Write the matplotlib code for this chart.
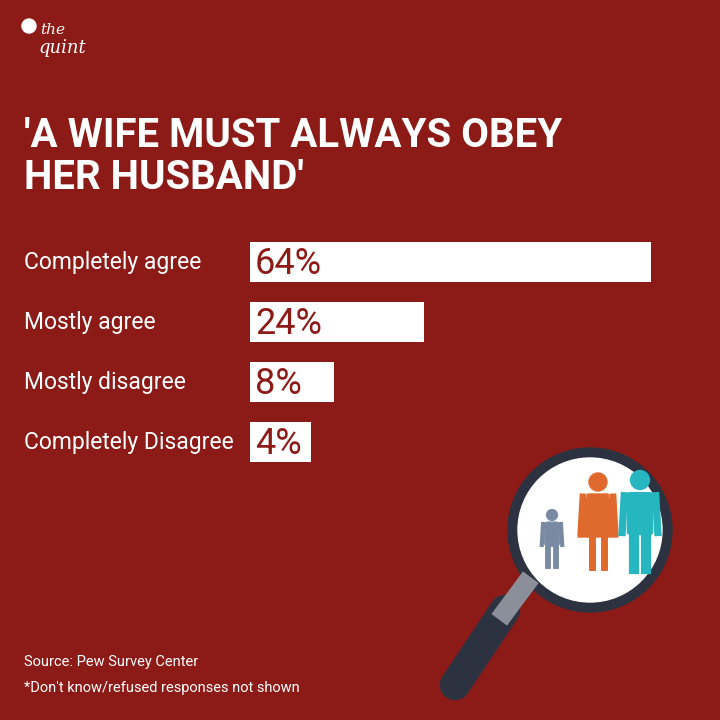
import matplotlib
matplotlib.use("Agg")
import matplotlib.pyplot as plt
from matplotlib.patches import Circle, FancyBboxPatch, Polygon

categories = ["Completely agree", "Mostly agree", "Mostly disagree", "Completely Disagree"]
values = [64, 24, 8, 4]
value_labels = ["64%", "24%", "8%", "4%"]

BG = "#8c1b17"
fig = plt.figure(figsize=(7.2, 7.2), dpi=100, facecolor=BG)
ax = fig.add_axes([0, 0, 1, 1])
ax.set_xlim(0, 720); ax.set_ylim(720, 0); ax.axis("off")
ax.set_facecolor(BG)

narrow = ["Liberation Sans Narrow", "Roboto", "DejaVu Sans"]

# logo
ax.text(40, 30, "the", color="white", fontsize=11, fontstyle="italic", family="DejaVu Serif", va="center")
ax.text(38, 48, "quint", color="white", fontsize=13, fontstyle="italic", family="DejaVu Serif", va="center")
ax.add_patch(Circle((29, 26), 7, color="white"))

ax.text(24, 157, "'A WIFE MUST ALWAYS OBEY\nHER HUSBAND'", color="white", fontsize=29,
        fontweight="bold", family=narrow, va="center", linespacing=1.15)

y0, dy, h, x0 = 262, 60, 40, 250
for i, (c, v, lab) in enumerate(zip(categories, values, value_labels)):
    y = y0 + i * dy
    w = 38.3 + 5.67 * v
    ax.barh(y, w, left=x0, height=h, color="white")
    ax.text(24, y, c, color="white", fontsize=16.5, family=narrow, va="center")
    ax.text(x0 + 5, y + 2, lab, color=BG, fontsize=26, family=narrow, va="center")

ax.text(24, 662, "Source: Pew Survey Center", color="white", fontsize=10.5, family=narrow, va="center")
ax.text(24, 688, "*Don't know/refused responses not shown", color="white", fontsize=10.5, family=narrow, va="center")

# magnifier
ax.plot([505, 455], [610, 685], color="#2d3240", lw=22, solid_capstyle="round")
ax.plot([525, 505], [585, 612], color="#8a8f99", lw=14)
ax.add_patch(Circle((590, 530), 82, color="#2d3240"))
ax.add_patch(Circle((590, 530), 72, color="white"))
def person(x, ytop, s, col, dress=False):
    ax.add_patch(Circle((x, ytop), 9 * s, color=col))
    if dress:
        ax.add_patch(Polygon([[x - 10*s, ytop + 12*s], [x + 10*s, ytop + 12*s], [x + 20*s, ytop + 55*s], [x - 20*s, ytop + 55*s]], color=col))
        ax.plot([x - 6*s, x - 6*s], [ytop + 55*s, ytop + 85*s], color=col, lw=5*s)
        ax.plot([x + 6*s, x + 6*s], [ytop + 55*s, ytop + 85*s], color=col, lw=5*s)
    else:
        ax.add_patch(FancyBboxPatch((x - 12*s, ytop + 12*s), 24*s, 40*s, boxstyle="round,pad=0,rounding_size=3", color=col))
        ax.plot([x - 6*s, x - 6*s], [ytop + 50*s, ytop + 85*s], color=col, lw=7*s)
        ax.plot([x + 6*s, x + 6*s], [ytop + 50*s, ytop + 85*s], color=col, lw=7*s)
    ax.plot([x - 15*s, x - 17*s], [ytop + 15*s, ytop + 50*s], color=col, lw=5*s)
    ax.plot([x + 15*s, x + 17*s], [ytop + 15*s, ytop + 50*s], color=col, lw=5*s)
person(552, 515, 0.6, "#7b8aa3")
person(598, 482, 1.0, "#e06a2e", dress=True)
person(640, 480, 1.05, "#26b6bf")

fig.savefig("out.png", dpi=100, facecolor=BG)
